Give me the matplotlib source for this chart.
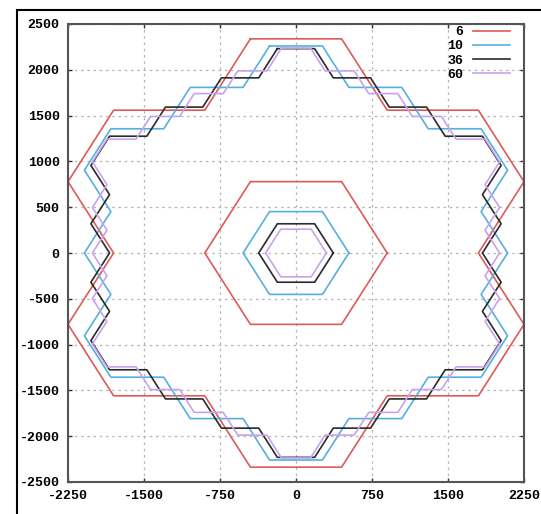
import matplotlib
matplotlib.use("Agg")
import matplotlib.pyplot as plt
from matplotlib.patches import Rectangle

# series labels and colours
labels = ["6", "10", "36", "60"]
colors = ["#dd5a5a", "#55b0e0", "#2a2a2a", "#c9a2ee"]

# outer contours, clockwise from the top-left corner
red_outer = [(-450, 2338), (450, 2338), (900, 1559), (1800, 1559), (2250, 779), (1800, 0),
             (2250, -779), (1800, -1559), (900, -1559), (450, -2338), (-450, -2338),
             (-900, -1559), (-1800, -1559), (-2250, -779), (-1800, 0), (-2250, 779),
             (-1800, 1559), (-900, 1559)]
blue_outer = [(-261, 2260), (261, 2260), (522, 1808), (1044, 1808), (1305, 1356), (1827, 1356),
              (2088, 904), (1827, 452), (2088, 0), (1827, -452), (2088, -904), (1827, -1356),
              (1305, -1356), (1044, -1808), (522, -1808), (261, -2260), (-261, -2260),
              (-522, -1808), (-1044, -1808), (-1305, -1356), (-1827, -1356), (-2088, -904),
              (-1827, -452), (-2088, 0), (-1827, 452), (-2088, 904), (-1827, 1356),
              (-1305, 1356), (-1044, 1808), (-522, 1808)]
black_outer = [(-184, 2231), (184, 2231), (368, 1912), (736, 1912), (920, 1593), (1288, 1593),
               (1472, 1275), (1840, 1275), (2024, 956), (1840, 637), (2024, 319), (1840, 0),
               (2024, -319), (1840, -637), (2024, -956), (1840, -1275), (1472, -1275),
               (1288, -1593), (920, -1593), (736, -1912), (368, -1912), (184, -2231),
               (-184, -2231), (-368, -1912), (-736, -1912), (-920, -1593), (-1288, -1593),
               (-1472, -1275), (-1840, -1275), (-2024, -956), (-1840, -637), (-2024, -319),
               (-1840, 0), (-2024, 319), (-1840, 637), (-2024, 956), (-1840, 1275),
               (-1472, 1275), (-1288, 1593), (-920, 1593), (-736, 1912), (-368, 1912)]
purple_outer = [(-144, 2237), (144, 2237), (287, 1988), (574, 1988), (718, 1740), (1005, 1740),
                (1148, 1491), (1435, 1491), (1579, 1243), (1866, 1243), (2009, 994),
                (1866, 746), (2009, 497), (1866, 249), (2009, 0), (1866, -249), (2009, -497),
                (1866, -746), (2009, -994), (1866, -1243), (1579, -1243), (1435, -1491),
                (1148, -1491), (1005, -1740), (718, -1740), (574, -1988), (287, -1988),
                (144, -2237), (-144, -2237), (-287, -1988), (-574, -1988), (-718, -1740),
                (-1005, -1740), (-1148, -1491), (-1435, -1491), (-1579, -1243),
                (-1866, -1243), (-2009, -994), (-1866, -746), (-2009, -497), (-1866, -249),
                (-2009, 0), (-1866, 249), (-2009, 497), (-1866, 746), (-2009, 994),
                (-1866, 1243), (-1579, 1243), (-1435, 1491), (-1148, 1491), (-1005, 1740),
                (-718, 1740), (-574, 1988), (-287, 1988)]

# inner hexagons
red_inner = [(900, 0), (450, 779), (-450, 779), (-900, 0), (-450, -779), (450, -779)]
blue_inner = [(522, 0), (261, 452), (-261, 452), (-522, 0), (-261, -452), (261, -452)]
black_inner = [(368, 0), (184, 319), (-184, 319), (-368, 0), (-184, -319), (184, -319)]
purple_inner = [(300, 0), (150, 260), (-150, 260), (-300, 0), (-150, -260), (150, -260)]

xticks = [-2250, -1500, -750, 0, 750, 1500, 2250]
yticks = [-2500, -2000, -1500, -1000, -500, 0, 500, 1000, 1500, 2000, 2500]

outers = [red_outer, blue_outer, black_outer, purple_outer]
inners = [red_inner, blue_inner, black_inner, purple_inner]

W, H = 541, 514
fig = plt.figure(figsize=(W / 100, H / 100), dpi=100)
ax = fig.add_axes([68 / W, 1 - 482 / H, (524 - 68) / W, (482 - 24) / H])

for lab, col, outer, inner in zip(labels, colors, outers, inners):
    pts = outer + outer[:1]
    ax.plot([p[0] for p in pts], [p[1] for p in pts], color=col, lw=1.2, label=lab)
    pts = inner + inner[:1]
    ax.plot([p[0] for p in pts], [p[1] for p in pts], color=col, lw=1.2)

ax.set_xlim(-2250, 2250)
ax.set_ylim(-2500, 2500)
ax.set_xticks(xticks)
ax.set_yticks(yticks)
ax.grid(True, color="#b5b5b5", lw=0.9, linestyle=(0, (2, 3)))

tick_font = {"family": "Liberation Mono", "weight": "bold", "size": 9.5}
ax.set_xticklabels([str(t) for t in xticks], fontdict=tick_font)
ax.set_yticklabels([str(t) for t in yticks], fontdict=tick_font)
ax.tick_params(direction="in", length=3, width=1, color="#333333",
               top=True, right=True, pad=6)
for s in ax.spines.values():
    s.set_color("#555555")
    s.set_linewidth(1.5)

leg = ax.legend(loc="upper right", bbox_to_anchor=((510 - 68) / 456, (482 - 26) / 458),
                frameon=False, markerfirst=False, borderpad=0, borderaxespad=0,
                handlelength=2.8, handletextpad=0.75, labelspacing=0.15,
                prop={"family": "Liberation Mono", "weight": "bold", "size": 9.5})

# outer frame of the picture (only left and top edges fall inside)
fig.add_artist(Rectangle((17 / W, -0.5), 2, 0.5 + 1 - 10 / H, transform=fig.transFigure,
                         fill=False, edgecolor="black", lw=1.5, clip_on=False))

fig.savefig("out.png", dpi=100)
